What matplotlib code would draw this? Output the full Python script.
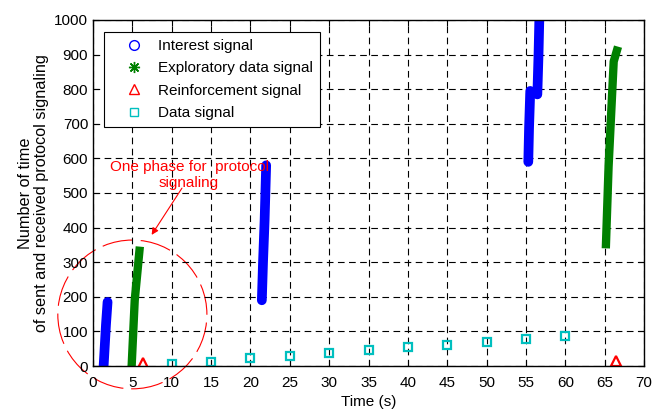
import matplotlib
matplotlib.use("Agg")
import matplotlib.pyplot as plt
from matplotlib.patches import Ellipse

plt.rcParams['font.family'] = ['Liberation Sans', 'DejaVu Sans']
plt.rcParams['font.size'] = 11

# streak vertices (time s, count)
interest_runs = [
    ([1.35, 1.5, 1.65, 1.85], [0, 60, 120, 185]),
    ([21.45, 21.6, 21.8, 22.0], [190, 300, 420, 580]),
    ([55.3, 55.4, 55.55], [590, 690, 795]),
    ([56.45, 56.6, 56.7], [785, 900, 1000]),
]
explore_runs = [
    ([4.9, 5.3, 5.95], [-5, 190, 345]),
    ([65.15, 65.5, 66.15, 66.7], [340, 576, 880, 923]),
]
reinf_t = [6.3, 66.4]
reinf_n = [9, 15]
data_t = [10, 15, 20, 25, 30, 35, 40, 45, 50, 55, 60]
data_n = [5, 13, 22, 30, 38, 46, 54, 62, 70, 78, 87]

blue = (0, 0, 1)
green = (0, 0.5, 0)
red = (1, 0, 0)
cyan = (0, 0.75, 0.75)

fig = plt.figure(figsize=(6.54, 4.09), dpi=100)
ax = fig.add_axes([93/654, 1-366/409, 551/654, 346/409])

for t, n in interest_runs:
    ax.plot(t, n, '-', color=blue, lw=7, solid_capstyle='round')
for t, n in explore_runs:
    ax.plot(t, n, '-', color=green, lw=6, solid_capstyle='butt',
            solid_joinstyle='round')
ax.plot(reinf_t, reinf_n, '^', color=red, mfc='none', mew=1.6, ms=7, lw=0)
ax.plot(data_t, data_n, 's', color=cyan, mfc='none', mew=1.6, ms=6, lw=0)

# legend proxies
h1, = ax.plot([], [], 'o', color=blue, mfc='none', ms=7, label='Interest signal')
h2, = ax.plot([], [], marker=(8, 2, 0), color=green, ms=8, mew=1.0, lw=0,
              label='Exploratory data signal')
h3, = ax.plot([], [], '^', color=red, mfc='none', ms=7, label='Reinforcement signal')
h4, = ax.plot([], [], 's', color=cyan, mfc='none', ms=6, label='Data signal')
leg = ax.legend(handles=[h1, h2, h3, h4], loc='upper left',
                bbox_to_anchor=(0.02, 0.965), borderaxespad=0, fancybox=False,
                edgecolor='black', framealpha=1, handlelength=3.0,
                handletextpad=0.1, labelspacing=0.55, borderpad=0.45, fontsize=11)
leg.get_frame().set_linewidth(0.8)

# annotation
ax.add_patch(Ellipse((5.0, 149), 2*9.47, 2*215, fill=False, edgecolor=red,
                     lw=0.8, ls=(0, (28, 7)), clip_on=False))
ax.text(12.2, 553, 'One phase for  protocol\nsignaling', color=red,
        ha='center', va='center', fontsize=11, linespacing=1.2)
ax.annotate('', xy=(7.45, 379), xytext=(11.3, 514),
            arrowprops=dict(arrowstyle='-|>', color=red, lw=0.8,
                            shrinkA=0, shrinkB=0, mutation_scale=10))

ax.set_xlim(0, 70)
ax.set_ylim(0, 1000)
ax.set_xticks(range(0, 71, 5))
ax.set_yticks(range(0, 1001, 100))
ax.grid(True, color='black', ls=(0, (6, 4)), lw=0.8)
ax.tick_params(direction='in', top=True, right=True, length=4)
ax.tick_params(axis='x', pad=7)
for s in ax.spines.values():
    s.set_linewidth(1.0)
ax.set_xlabel('Time (s)', labelpad=4)
ax.set_ylabel('Number of time\nof sent and received protocol signaling',
              labelpad=4, fontsize=11.7, linespacing=1.05)

fig.savefig('out.png', dpi=100)
